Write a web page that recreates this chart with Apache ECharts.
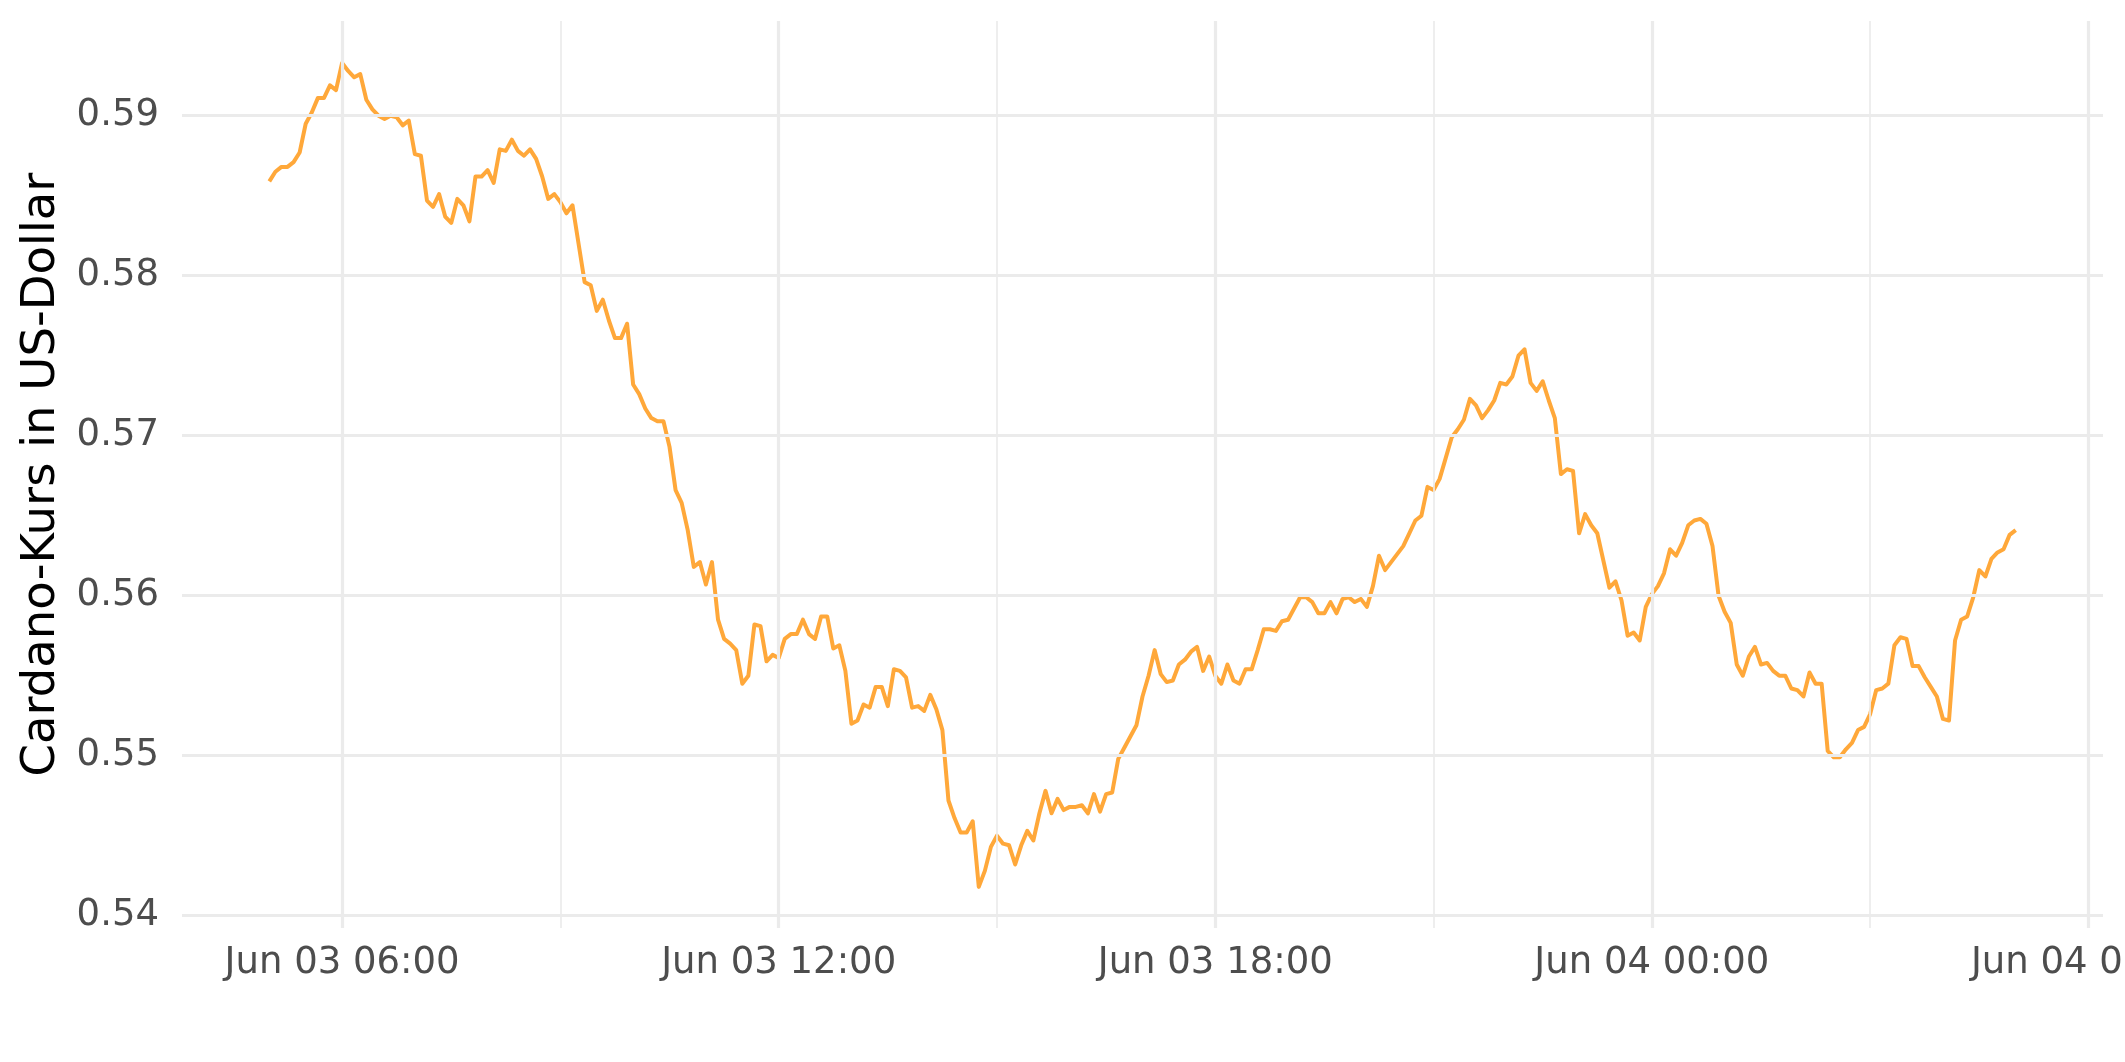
<!DOCTYPE html>
<html>
<head>
<meta charset="utf-8">
<title>Cardano-Kurs</title>
<script src="https://cdn.jsdelivr.net/npm/echarts@6.0.0/dist/echarts.min.js"></script>
<style>
  html, body { margin: 0; padding: 0; background: #fff; }
  #chart { width: 2125px; height: 1062px; }
</style>
</head>
<body>
<div id="chart"></div>
<script>
// 5-minute prices, Jun 03 05:00 -> Jun 04 05:00 (UTC)
const startTime = '2022-06-03T05:00:00Z';
const stepMinutes = 5;
const prices = [
  0.5859, 0.5865, 0.5868, 0.5868, 0.5871, 0.5877, 0.5895, 0.5902, 0.5911, 0.5911,
  0.5919, 0.5916, 0.5933, 0.5928, 0.5924, 0.5926, 0.5910, 0.5904, 0.5900, 0.5898,
  0.5900, 0.5899, 0.5894, 0.5897, 0.5876, 0.5875, 0.5847, 0.5843, 0.5851, 0.5837,
  0.5833, 0.5848, 0.5844, 0.5834, 0.5862, 0.5862, 0.5866, 0.5858, 0.5879, 0.5878,
  0.5885, 0.5878, 0.5875, 0.5879, 0.5873, 0.5862, 0.5848, 0.5851, 0.5846, 0.5839,
  0.5844, 0.5820, 0.5796, 0.5794, 0.5778, 0.5785, 0.5772, 0.5761, 0.5761, 0.5770,
  0.5732, 0.5726, 0.5717, 0.5711, 0.5709, 0.5709, 0.5693, 0.5666, 0.5658, 0.5641,
  0.5618, 0.5621, 0.5607, 0.5621, 0.5585, 0.5573, 0.5570, 0.5566, 0.5545, 0.5550,
  0.5582, 0.5581, 0.5559, 0.5563, 0.5561, 0.5573, 0.5576, 0.5576, 0.5585, 0.5576,
  0.5573, 0.5587, 0.5587, 0.5567, 0.5569, 0.5553, 0.5520, 0.5522, 0.5532, 0.5530,
  0.5543, 0.5543, 0.5531, 0.5554, 0.5553, 0.5549, 0.5530, 0.5531, 0.5528, 0.5538,
  0.5529, 0.5516, 0.5472, 0.5461, 0.5452, 0.5452, 0.5459, 0.5418, 0.5428, 0.5443,
  0.5450, 0.5445, 0.5444, 0.5432, 0.5444, 0.5453, 0.5447, 0.5464, 0.5478, 0.5464,
  0.5473, 0.5466, 0.5468, 0.5468, 0.5469, 0.5464, 0.5476, 0.5465, 0.5476, 0.5477,
  0.5498, 0.5505, 0.5512, 0.5519, 0.5537, 0.5550, 0.5566, 0.5551, 0.5546, 0.5547,
  0.5557, 0.5560, 0.5565, 0.5568, 0.5553, 0.5562, 0.5550, 0.5545, 0.5557, 0.5547,
  0.5545, 0.5554, 0.5554, 0.5566, 0.5579, 0.5579, 0.5578, 0.5584, 0.5585, 0.5592,
  0.5599, 0.5599, 0.5596, 0.5589, 0.5589, 0.5596, 0.5589, 0.5598, 0.5599, 0.5596,
  0.5598, 0.5593, 0.5606, 0.5625, 0.5616, 0.5621, 0.5626, 0.5631, 0.5639, 0.5647,
  0.5650, 0.5668, 0.5666, 0.5673, 0.5686, 0.5699, 0.5704, 0.5710, 0.5723, 0.5719,
  0.5711, 0.5716, 0.5722, 0.5733, 0.5732, 0.5737, 0.5750, 0.5754, 0.5733, 0.5728,
  0.5734, 0.5722, 0.5711, 0.5676, 0.5679, 0.5678, 0.5639, 0.5651, 0.5644, 0.5639,
  0.5622, 0.5605, 0.5609, 0.5597, 0.5575, 0.5577, 0.5572, 0.5593, 0.5601, 0.5606,
  0.5614, 0.5629, 0.5625, 0.5633, 0.5644, 0.5647, 0.5648, 0.5645, 0.5631, 0.5600,
  0.5590, 0.5583, 0.5557, 0.5550, 0.5562, 0.5568, 0.5557, 0.5558, 0.5553, 0.5550,
  0.5550, 0.5542, 0.5541, 0.5537, 0.5552, 0.5545, 0.5545, 0.5503, 0.5499, 0.5499,
  0.5504, 0.5508, 0.5516, 0.5518, 0.5526, 0.5541, 0.5542, 0.5545, 0.5569, 0.5574,
  0.5573, 0.5556, 0.5556, 0.5549, 0.5543, 0.5537, 0.5523, 0.5522, 0.5572, 0.5585,
  0.5587, 0.5599, 0.5616, 0.5612, 0.5623, 0.5627, 0.5629, 0.5638, 0.5641
];

// axis ticks and grid lines
const xTicks = ['2022-06-03T06:00:00Z', '2022-06-03T12:00:00Z', '2022-06-03T18:00:00Z',
                '2022-06-04T00:00:00Z', '2022-06-04T06:00:00Z'];
const xMinorTicks = ['2022-06-03T09:00:00Z', '2022-06-03T15:00:00Z',
                     '2022-06-03T21:00:00Z', '2022-06-04T03:00:00Z'];
const yTicks = [0.54, 0.55, 0.56, 0.57, 0.58, 0.59];
const yMinorTicks = [0.545, 0.555, 0.565, 0.575, 0.585, 0.595];
const xRange = ['2022-06-03T03:48:00Z', '2022-06-04T06:12:00Z'];
const yRange = [0.53923, 0.59592];

const months = ['Jan', 'Feb', 'Mar', 'Apr', 'May', 'Jun', 'Jul', 'Aug', 'Sep', 'Oct', 'Nov', 'Dec'];
const pad = n => String(n).padStart(2, '0');

function fmtTime(v) {
  const d = new Date(v);
  return months[d.getUTCMonth()] + ' ' + pad(d.getUTCDate()) + ' ' +
         pad(d.getUTCHours()) + ':' + pad(d.getUTCMinutes());
}

const t0 = Date.parse(startTime);
const seriesData = prices.map((p, i) => [t0 + i * stepMinutes * 60000, p]);

const gridColor = '#EBEBEB';
const gridLines = [];
xTicks.forEach(t => gridLines.push({ xAxis: Date.parse(t), lineStyle: { width: 3.2 } }));
xMinorTicks.forEach(t => gridLines.push({ xAxis: Date.parse(t), lineStyle: { width: 1.7 } }));
yTicks.forEach(v => gridLines.push({ yAxis: v, lineStyle: { width: 3.2 } }));
yMinorTicks.forEach(v => gridLines.push({ yAxis: v, lineStyle: { width: 1.7 } }));

const chart = echarts.init(document.getElementById('chart'), null, { renderer: 'canvas' });

const option = {
  backgroundColor: '#ffffff',
  animation: false,
  grid: {
    left: 182,
    right: 22,
    top: 21,
    bottom: 134,
    containLabel: false,
    outerBoundsMode: 'none'   // keep panel fixed, let last label run off the edge
  },
  xAxis: {
    // timestamps on a plain value axis, labels formatted as dates
    type: 'value',
    min: Date.parse(xRange[0]),
    max: Date.parse(xRange[1]),
    axisLine: { show: false },
    axisTick: { show: false, customValues: xTicks.map(t => Date.parse(t)) },
    splitLine: { show: false },
    axisLabel: {
      customValues: xTicks.map(t => Date.parse(t)),
      formatter: v => fmtTime(v),
      color: '#4D4D4D',
      fontFamily: 'DejaVu Sans',
      fontSize: 37,
      margin: 17,
      hideOverlap: false
    }
  },
  yAxis: {
    type: 'value',
    min: yRange[0],
    max: yRange[1],
    name: 'Cardano-Kurs in US-Dollar',
    nameLocation: 'middle',
    nameRotate: 90,
    nameGap: 116,
    nameTextStyle: {
      color: '#000000',
      fontFamily: 'DejaVu Sans',
      fontSize: 46.5
    },
    axisLine: { show: false },
    axisTick: { show: false, customValues: yTicks },
    splitLine: { show: false },
    axisLabel: {
      customValues: yTicks,
      formatter: v => v.toFixed(2),
      color: '#4D4D4D',
      fontFamily: 'DejaVu Sans',
      fontSize: 37,
      margin: 23
    }
  },
  series: [
    {
      // background grid only
      name: 'grid',
      type: 'line',
      data: [],
      z: 1,
      silent: true,
      markLine: {
        silent: true,
        symbol: ['none', 'none'],
        label: { show: false },
        emphasis: { disabled: true },
        lineStyle: { color: gridColor, type: 'solid' },
        data: gridLines
      }
    },
    {
      name: 'ADA',
      type: 'line',
      data: seriesData,
      z: 3,
      showSymbol: false,
      symbol: 'none',
      lineStyle: {
        color: '#FFA83A',
        width: 4,
        join: 'round'
      }
    }
  ]
};

chart.setOption(option);
</script>
</body>
</html>
